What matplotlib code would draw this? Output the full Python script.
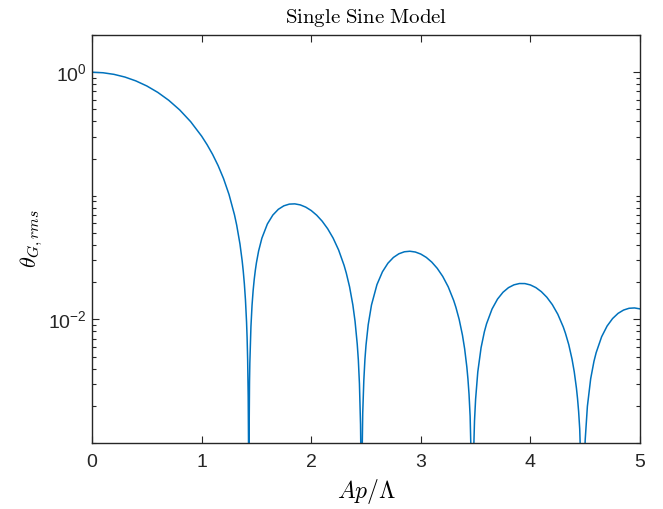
import matplotlib
matplotlib.use('Agg')

import matplotlib.pyplot as plt
from matplotlib.ticker import LogLocator, FixedLocator, NullFormatter

# curve, lobe by lobe (Ap/Lambda, theta_G,rms)
x_lobe1 = [0.0, 0.1, 0.2, 0.3, 0.4, 0.5, 0.6, 0.7, 0.8, 0.9, 1.0, 1.05, 1.1,
           1.15, 1.2, 1.25, 1.3, 1.32, 1.35, 1.37, 1.38, 1.39, 1.40, 1.41,
           1.415, 1.42, 1.425, 1.428, 1.4302]
y_lobe1 = [1.0, 0.9902, 0.9611, 0.9140, 0.8507, 0.7740, 0.6869, 0.5928, 0.4953,
           0.3979, 0.3040, 0.2592, 0.2165, 0.1759, 0.1379, 0.1025, 0.07009,
           0.05795, 0.04068, 0.02977, 0.02452, 0.01939, 0.01439, 0.00951,
           0.00712, 0.00475, 0.00237, 0.00100, 1e-5]

x_lobe2 = [1.432, 1.437, 1.44, 1.45, 1.46, 1.47, 1.48, 1.49, 1.5, 1.52, 1.55,
           1.6, 1.65, 1.7, 1.75, 1.8, 1.85, 1.9, 1.95, 2.0, 2.05, 2.1, 2.15,
           2.2, 2.25, 2.3, 2.32, 2.35, 2.38, 2.4, 2.42, 2.43, 2.44, 2.45,
           2.455, 2.4589]
y_lobe2 = [0.00082, 0.0031, 0.00444, 0.00873, 0.01298, 0.01709, 0.02107,
           0.02493, 0.02867, 0.03576, 0.04545, 0.05916, 0.06988, 0.07776,
           0.08295, 0.08565, 0.08607, 0.08444, 0.08099, 0.07599, 0.06968,
           0.06233, 0.05417, 0.04547, 0.03645, 0.02734, 0.02372, 0.01835,
           0.01308, 0.00965, 0.00630, 0.00470, 0.00302, 0.00141, 0.00061, 1e-5]

x_lobe3 = [2.463, 2.47, 2.48, 2.49, 2.5, 2.52, 2.55, 2.6, 2.65, 2.7, 2.75, 2.8,
           2.85, 2.9, 2.95, 3.0, 3.05, 3.1, 3.15, 3.2, 3.25, 3.3, 3.32, 3.35,
           3.38, 3.4, 3.42, 3.43, 3.44, 3.45, 3.465, 3.4709]
y_lobe3 = [0.00064, 0.00174, 0.00320, 0.00473, 0.00619, 0.00904, 0.01308,
           0.01913, 0.02428, 0.02849, 0.03171, 0.03396, 0.03525, 0.03560,
           0.03509, 0.03377, 0.03174, 0.02908, 0.02589, 0.02228, 0.01836,
           0.01423, 0.01254, 0.01000, 0.00746, 0.00578, 0.00412, 0.00330,
           0.00248, 0.00165, 0.00047, 1e-5]

x_lobe4 = [3.476, 3.48, 3.49, 3.5, 3.52, 3.55, 3.58, 3.6, 3.65, 3.7, 3.75, 3.8,
           3.85, 3.9, 3.95, 4.0, 4.05, 4.1, 4.15, 4.2, 4.25, 4.3, 4.32, 4.35,
           4.38, 4.4, 4.42, 4.43, 4.44, 4.45, 4.47, 4.4774]
y_lobe4 = [0.00040, 0.00072, 0.00151, 0.00226, 0.00376, 0.00591, 0.00794,
           0.00922, 0.01213, 0.01460, 0.01658, 0.01807, 0.01904, 0.01951,
           0.01949, 0.01900, 0.01808, 0.01676, 0.01511, 0.01317, 0.01101,
           0.00868, 0.00771, 0.00625, 0.00476, 0.00377, 0.00278, 0.00229,
           0.00180, 0.00130, 0.00035, 1e-5]

x_lobe5 = [4.485, 4.49, 4.5, 4.52, 4.55, 4.58, 4.6, 4.65, 4.7, 4.75, 4.8, 4.85,
           4.9, 4.95, 5.0]
y_lobe5 = [0.00036, 0.00060, 0.00106, 0.00198, 0.00331, 0.00458, 0.00538,
           0.00724, 0.00884, 0.01016, 0.01119, 0.01190, 0.01230, 0.01238,
           0.01216]

x_ticks = [0, 1, 2, 3, 4, 5]
y_ticks = [1e-2, 1e0]
y_ticklabels = [r'$10^{-2}$', r'$10^{0}$']

x_vals = x_lobe1 + x_lobe2 + x_lobe3 + x_lobe4 + x_lobe5
theta_rms = y_lobe1 + y_lobe2 + y_lobe3 + y_lobe4 + y_lobe5

plt.rcParams['mathtext.fontset'] = 'custom'
plt.rcParams['mathtext.rm'] = 'Liberation Sans'
plt.rcParams['mathtext.it'] = 'Liberation Sans:italic'
plt.rcParams['font.family'] = 'Liberation Sans'

axis_col = '#262626'

fig = plt.figure(figsize=(6.63, 5.09), dpi=100)
ax = fig.add_axes([0.1388, 0.1297, 0.8265, 0.8015])

ax.plot(x_vals, theta_rms, color='#0072BD', linewidth=1.1)

ax.set_yscale('log')
ax.set_xlim(0, 5)
ax.set_ylim(1e-3, 2)

ax.set_xticks(x_ticks)
ax.set_xticklabels([str(t) for t in x_ticks])
ax.yaxis.set_major_locator(FixedLocator(y_ticks))
ax.set_yticklabels(y_ticklabels)
ax.yaxis.set_minor_locator(LogLocator(base=10, subs=range(1, 10), numticks=20))
ax.yaxis.set_minor_formatter(NullFormatter())

ax.tick_params(which='both', direction='in', top=True, right=True,
               colors=axis_col, labelsize=14, width=0.8)
ax.tick_params(which='major', length=5)
ax.tick_params(which='minor', length=3)
ax.tick_params(axis='x', pad=8)
ax.tick_params(axis='y', pad=4)
for sp in ax.spines.values():
    sp.set_color(axis_col)
    sp.set_linewidth(1.0)

ax.set_title(r'$\mathrm{Single\ Sine\ Model}$', fontsize=15, math_fontfamily='cm',
             pad=9, color='black')
ax.set_xlabel(r'$Ap/\Lambda$', fontsize=17, math_fontfamily='cm', labelpad=4)
ax.set_ylabel(r'$\theta_{G,rms}$', fontsize=16, math_fontfamily='cm', labelpad=2)

fig.savefig('out.png', dpi=100)
